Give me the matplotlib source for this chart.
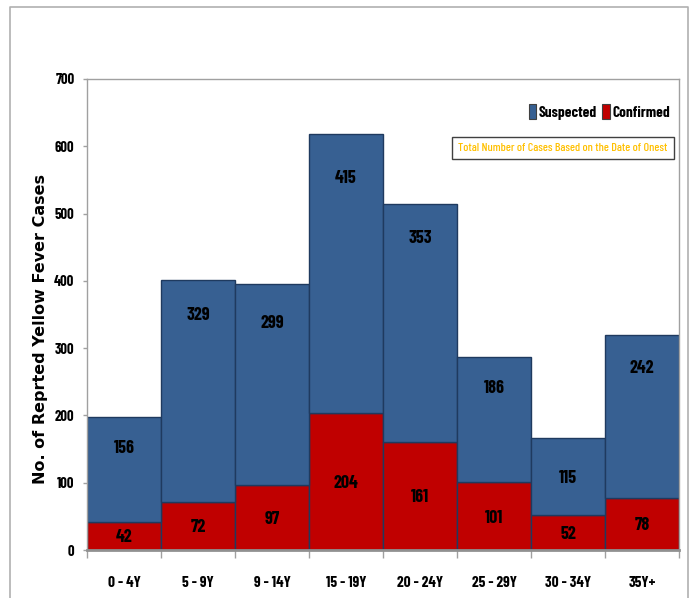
import matplotlib
matplotlib.use("Agg")
import matplotlib.pyplot as plt
from matplotlib.patches import Rectangle
from matplotlib.lines import Line2D
import numpy as np

# Age groups and case counts
age_groups = ["0 - 4Y", "5 - 9Y", "9 - 14Y", "15 - 19Y", "20 - 24Y", "25 - 29Y", "30 - 34Y", "35Y+"]
confirmed = [42, 72, 97, 204, 161, 101, 52, 78]
suspected = [156, 329, 299, 415, 353, 186, 115, 242]
y_ticks = [0, 100, 200, 300, 400, 500, 600, 700]

# distance of each suspected label below the top of its bar (data units)
susp_label_drop = [47, 53, 59, 67, 51, 47, 60, 50]

BLUE = "#376092"
RED = "#C00000"
EDGE = "#1F3A5F"
GREY = "#A0A0A0"
NARROW = ["Barlow Condensed", "DejaVu Sans"]

fig = plt.figure(figsize=(6.94, 5.98), dpi=100)
ax = fig.add_axes([87 / 694, 48 / 598, 592 / 694, 471 / 598])

x = np.arange(len(age_groups))
ax.bar(x, confirmed, width=1.0, color=RED, edgecolor=EDGE, linewidth=1.0, zorder=2)
ax.bar(x, suspected, width=1.0, bottom=confirmed, color=BLUE, edgecolor=EDGE,
       linewidth=1.0, zorder=2)

for xi, c, s, d in zip(x, confirmed, suspected, susp_label_drop):
    ax.text(xi, c / 2 - 3, str(c), ha="center", va="center", fontsize=13,
            fontweight="bold", family=NARROW, color="black", zorder=3)
    ax.text(xi, c + s - d, str(s), ha="center", va="center", fontsize=13,
            fontweight="bold", family=NARROW, color="black", zorder=3)

ax.set_xlim(-0.5, len(age_groups) - 0.5)
ax.set_ylim(0, 700)
ax.set_yticks(y_ticks)
ax.set_yticklabels([str(v) for v in y_ticks], family=NARROW, fontweight="bold", fontsize=10.5)
ax.tick_params(axis="y", length=3, width=1, color=GREY, pad=6)

ax.set_xticks(x)
ax.set_xticklabels(age_groups, family=NARROW, fontweight="bold", fontsize=11)
ax.tick_params(axis="x", which="major", length=0, pad=19)
ax.set_xticks(np.arange(-0.5, len(age_groups)), minor=True)
ax.tick_params(axis="x", which="minor", length=6, width=1, color=GREY)

for side in ["top", "right", "left"]:
    ax.spines[side].set_color(GREY)
    ax.spines[side].set_linewidth(1.0)
ax.spines["bottom"].set_color("#909090")
ax.spines["bottom"].set_linewidth(2.0)

ax.set_ylabel("No. of Reprted Yellow Fever Cases", fontsize=11.5, fontweight="bold",
              family="DejaVu Sans")
ax.yaxis.set_label_coords(-0.066, 0.47)

handles = [Rectangle((0, 0), 1, 1, facecolor=BLUE, edgecolor="#404040", linewidth=0.8),
           Rectangle((0, 0), 1, 1, facecolor=RED, edgecolor="#404040", linewidth=0.8)]
ax.legend(handles, ["Suspected", "Confirmed"], loc="center right", ncol=2,
          bbox_to_anchor=(1.0, 0.93), frameon=False, handlelength=0.5, handleheight=1.1,
          handletextpad=0.15, columnspacing=0.35, borderaxespad=0.2,
          prop={"family": NARROW, "weight": "bold", "size": 11})

ax.text(0.627, 0.853, "Total Number of Cases Based on the Date of Onest",
        transform=ax.transAxes, ha="left", va="center", color="#FFC000",
        fontsize=8.7, family=NARROW, fontweight="medium", zorder=4,
        bbox=dict(boxstyle="square,pad=0.5", facecolor="white", edgecolor="#404040",
                  linewidth=1.0))

# outer chart frame
fx0, fx1, fy1 = 10 / 694, 688 / 694, 1 - 7 / 598
fig.add_artist(Line2D([fx0, fx0, fx1, fx1], [0, fy1, fy1, 0], transform=fig.transFigure,
                      color="#B0B0B0", linewidth=1.2))

fig.savefig("out.png", dpi=100)
